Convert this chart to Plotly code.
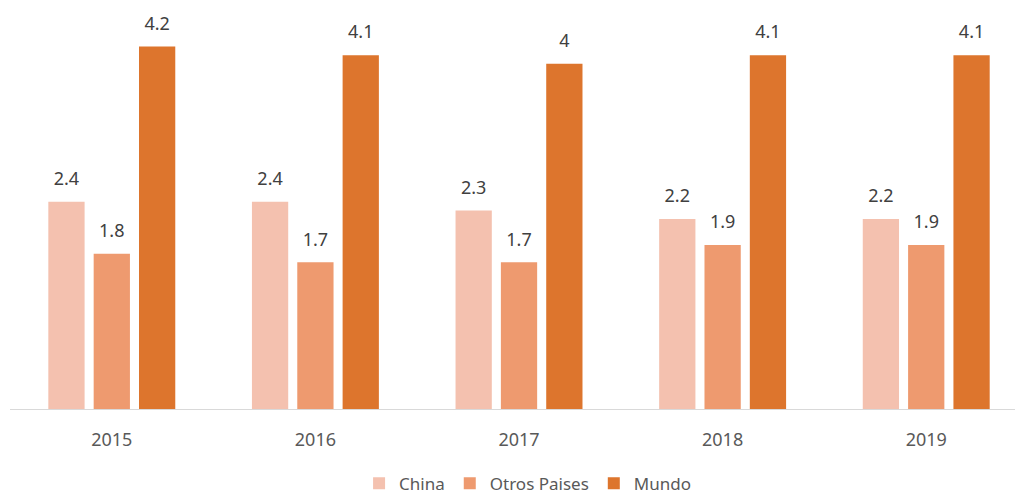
import plotly.graph_objects as go

years = ["2015", "2016", "2017", "2018", "2019"]
china = [2.4, 2.4, 2.3, 2.2, 2.2]
otros_paises = [1.8, 1.7, 1.7, 1.9, 1.9]
mundo = [4.2, 4.1, 4, 4.1, 4.1]

series = [
    ("China", china, "#F4C1AF"),
    ("Otros Paises", otros_paises, "#EE9A6F"),
    ("Mundo", mundo, "#DD752D"),
]

FONT = "Noto Sans"
GAP = 0.332

fig = go.Figure()
for name, vals, color in series:
    fig.add_trace(go.Bar(
        x=years, y=vals, name=name,
        marker=dict(color=color, line=dict(width=0)),
        hoverinfo="skip",
    ))

# value labels, grouped the same way as the bars and lifted by an invisible marker
for name, vals, color in series:
    fig.add_trace(go.Scatter(
        x=years, y=vals, mode="markers+text", showlegend=False,
        marker=dict(size=18, opacity=0),
        texttemplate="%{y}", textposition="top center",
        textfont=dict(family=FONT, size=18, color="#404040"),
        cliponaxis=False, hoverinfo="skip",
    ))

fig.update_layout(
    width=1015, height=496,
    margin=dict(l=10, r=0, t=20, b=87, autoexpand=False),
    paper_bgcolor="white", plot_bgcolor="white",
    barmode="group", bargap=GAP, bargroupgap=0.2,
    scattermode="group", scattergap=GAP,
    font=dict(family=FONT, size=18, color="#595959"),
    showlegend=True,
    legend=dict(orientation="h", x=0.515, xanchor="center", y=-0.192, yanchor="middle",
                font=dict(family=FONT, size=17, color="#595959"),
                itemwidth=30, tracegroupgap=0),
    xaxis=dict(range=[-0.5, 4.436], showline=True, linecolor="#D9D9D9", linewidth=1,
               showgrid=False, ticks="", ticklabelstandoff=14,
               tickfont=dict(family=FONT, size=18, color="#595959")),
    yaxis=dict(range=[0, 4.507], visible=False, showgrid=False, zeroline=False),
)

fig.write_html("out.html")
